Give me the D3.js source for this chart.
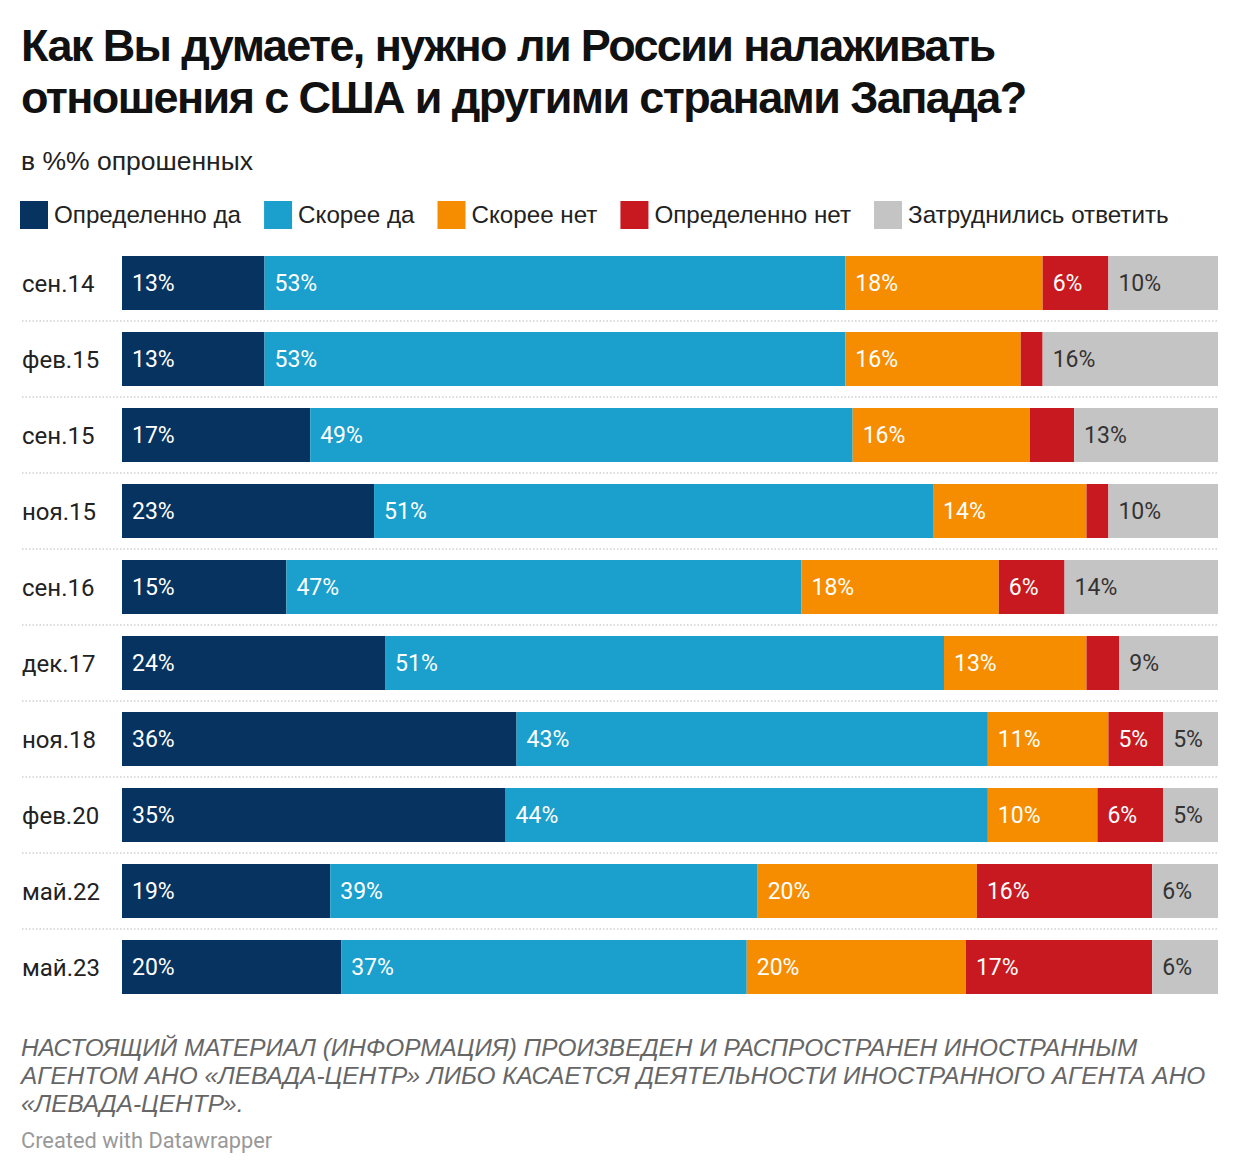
<!DOCTYPE html>
<html><head><meta charset="utf-8">
<script src="https://cdn.jsdelivr.net/npm/d3@7"></script>
<style>
body{margin:0;background:#fff;}
svg{display:block;}
</style></head>
<body>
<svg id="chart" width="1240" height="1176"></svg>
<script>
const categories = ["сен.14","фев.15","сен.15","ноя.15","сен.16","дек.17","ноя.18","фев.20","май.22","май.23"];
const seriesNames = ["Определенно да","Скорее да","Скорее нет","Определенно нет","Затруднились ответить"];
const definitelyYes = [13,13,17,23,15,24,36,35,19,20];
const ratherYes     = [53,53,49,51,47,51,43,44,39,37];
const ratherNo      = [18,16,16,14,18,13,11,10,20,20];
const definitelyNo  = [6,2,4,2,6,3,5,6,16,17];
const hardToSay     = [10,16,13,10,14,9,5,5,6,6];
const colors = ["#06335f","#1b9fcc","#f68d00","#c7191f","#c4c4c4"];
const titleLines = ["Как Вы думаете, нужно ли России налаживать","отношения с США и другими странами Запада?"];
const subtitle = "в %% опрошенных";
const footerLines = ["НАСТОЯЩИЙ МАТЕРИАЛ (ИНФОРМАЦИЯ) ПРОИЗВЕДЕН И РАСПРОСТРАНЕН ИНОСТРАННЫМ","АГЕНТОМ АНО «ЛЕВАДА-ЦЕНТР» ЛИБО КАСАЕТСЯ ДЕЯТЕЛЬНОСТИ ИНОСТРАННОГО АГЕНТА АНО","«ЛЕВАДА-ЦЕНТР»."];
const credit = "Created with Datawrapper";

const seriesValues = [definitelyYes, ratherYes, ratherNo, definitelyNo, hardToSay];
const rows = categories.map((c,i)=>{const o={cat:c}; seriesNames.forEach((s,j)=>o[s]=seriesValues[j][i]); return o;});

const svg = d3.select("#chart");

// Title
titleLines.forEach((t,i)=>{
  svg.append("text").attr("x",21).attr("y",61+i*52)
    .attr("font-family","Liberation Sans, Arial, sans-serif").attr("font-weight",700)
    .attr("font-size",45).attr("letter-spacing",-1.6).attr("fill","#111").text(t);
});
svg.append("text").attr("x",21).attr("y",170)
  .attr("font-family","Liberation Sans, Arial, sans-serif").attr("font-size",26.5)
  .attr("fill","#222").text(subtitle);

// Legend
let lx = 20;
seriesNames.forEach((s,j)=>{
  svg.append("rect").attr("x",lx).attr("y",201).attr("width",28).attr("height",28).attr("fill",colors[j]);
  const t = svg.append("text").attr("x",lx+34).attr("y",223)
    .attr("font-family","Liberation Sans, Arial, sans-serif").attr("font-size",24.2)
    .attr("fill","#222").text(s);
  lx += 34 + t.node().getComputedTextLength() + 23;
});

// Scales
const x = d3.scaleLinear().domain([0,1]).range([122,1218]);
const y = d3.scaleBand().domain(categories).range([245,1005]).paddingInner(22/76).paddingOuter(11/76);

const stack = d3.stack().keys(seriesNames).offset(d3.stackOffsetExpand);
const stacked = stack(rows);

// separators
categories.slice(1).forEach(c=>{
  const yy = y(c) - (y.step()-y.bandwidth())/2;
  svg.append("line").attr("x1",22).attr("x2",1218).attr("y1",yy).attr("y2",yy)
    .attr("stroke","#d0d0d0").attr("stroke-width",1.5).attr("stroke-dasharray","1.5,2");
});

// row labels
svg.append("g").selectAll("text").data(categories).join("text")
  .attr("x",22).attr("y",d=>y(d)+y.bandwidth()/2).attr("dy","0.36em")
  .attr("font-family","Roboto, sans-serif").attr("font-size",24).attr("fill","#222").text(d=>d);

// bars
stacked.forEach((layer,j)=>{
  const g = svg.append("g");
  g.selectAll("rect").data(layer).join("rect")
    .attr("x",d=>x(d[0])).attr("width",d=>x(d[1])-x(d[0]))
    .attr("y",d=>y(d.data.cat)).attr("height",y.bandwidth())
    .attr("fill",colors[j]);
  g.selectAll("text").data(layer.filter(d=>x(d[1])-x(d[0])>50)).join("text")
    .attr("x",d=>x(d[0])+10).attr("y",d=>y(d.data.cat)+y.bandwidth()/2).attr("dy","0.36em")
    .attr("font-family","Roboto, sans-serif").attr("font-size",23)
    .attr("fill",j===4?"#333":"#fff")
    .text(d=>d.data[layer.key]+"%");
});

// footer
footerLines.forEach((t,i)=>{
  svg.append("text").attr("x",21).attr("y",1056+i*28)
    .attr("font-family","Liberation Sans, Arial, sans-serif").attr("font-style","italic")
    .attr("font-size",24.4).attr("fill","#666").text(t);
});
svg.append("text").attr("x",21).attr("y",1148)
  .attr("font-family","Roboto, sans-serif").attr("font-size",21.8).attr("fill","#999").text(credit);
</script>
</body></html>
